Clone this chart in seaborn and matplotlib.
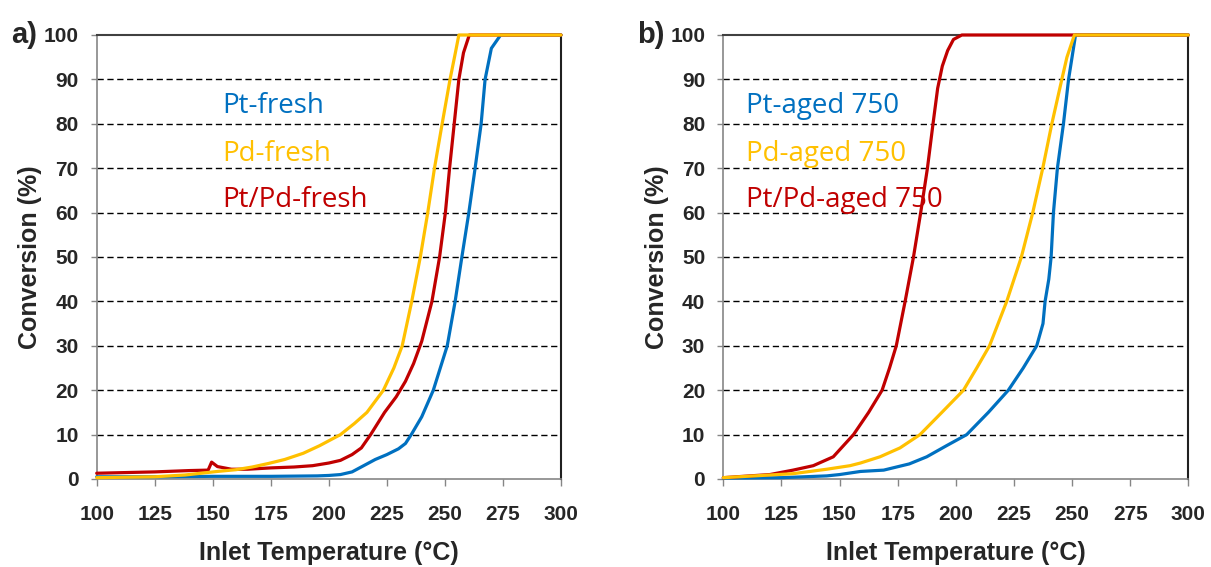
import numpy as np
import pandas as pd
import matplotlib
matplotlib.use("Agg")
import matplotlib.pyplot as plt
import seaborn as sns

# ---------------- data ----------------
# Panel a) fresh catalysts
pt_fresh_T = [100, 125, 150, 175, 195, 200, 205, 210, 215, 220, 225, 230, 233, 235.5, 240, 245, 248, 251,
              254.4, 257.3, 260.3, 263, 265.6, 267.3, 270, 274, 300]
pt_fresh_C = [0.5, 0.5, 0.6, 0.6, 0.7, 0.8, 1.0, 1.6, 3.0, 4.4, 5.5, 6.8, 8.0, 10, 14, 20, 25, 30,
              40, 50, 60, 70, 80, 90, 97, 100, 100]

pd_fresh_T = [100, 125, 138, 152, 160, 167, 174, 181, 189, 196, 205, 211, 216.4, 223.5, 228, 231.6,
              235.7, 239.4, 242.6, 245.5, 248.8, 252.2, 254.5, 256, 300]
pd_fresh_C = [0.3, 0.5, 0.9, 1.7, 2.1, 2.7, 3.5, 4.4, 5.8, 7.5, 10, 12.5, 15, 20, 25, 30,
              40, 50, 60, 70, 80, 90, 96, 100, 100]

ptpd_fresh_T = [100, 125, 140, 148, 149.5, 152, 158, 165, 175, 185, 193, 200, 205, 210, 214, 218, 224,
                229, 233, 236.5, 240, 244.4, 247.7, 250.2, 252, 254, 256, 258, 260.5, 300]
ptpd_fresh_C = [1.3, 1.6, 1.9, 2.0, 3.8, 2.8, 2.2, 2.2, 2.5, 2.7, 3.0, 3.6, 4.2, 5.5, 7, 10, 15,
                18.5, 22, 26, 31, 40, 50, 60, 70, 80, 90, 96, 100, 100]

# Panel b) aged 750
pt_aged_T = [100, 125, 144.5, 150, 159, 169, 180, 187.5, 196, 204.7, 214, 222.6, 229, 234.8, 237.5,
             238.4, 240, 241, 242, 243.7, 246.3, 248.5, 250, 251.5, 300]
pt_aged_C = [0.2, 0.3, 0.7, 1.0, 1.7, 2.0, 3.4, 5, 7.5, 10, 15, 20, 25, 30, 35,
             40, 45, 50, 60, 70, 80, 90, 95, 100, 100]

pd_aged_T = [100, 130, 144.5, 154.5, 159, 167.4, 176, 184.6, 194, 203.3, 209, 214.5, 221.9, 228.2,
             233.1, 237.4, 241.3, 245.6, 247.8, 251, 300]
pd_aged_C = [0.3, 1.2, 2.2, 3.0, 3.6, 5, 7, 10, 15, 20, 25, 30, 40, 50,
             60, 70, 80, 90, 95, 100, 100]

ptpd_aged_T = [100, 120, 130, 138.7, 147.3, 156, 162.5, 168.3, 171.5, 174.4, 178.2, 181.8, 184.9, 187.8,
               190.2, 192.2, 194.2, 196.5, 199, 202.6, 300]
ptpd_aged_C = [0.3, 1.0, 2.0, 3.0, 5, 10, 15, 20, 25, 30, 40, 50, 60, 70,
               80, 88, 93, 96.5, 99, 100, 100]

labels_a = {"Pt": "Pt-fresh", "Pd": "Pd-fresh", "PtPd": "Pt/Pd-fresh"}
labels_b = {"Pt": "Pt-aged 750", "Pd": "Pd-aged 750", "PtPd": "Pt/Pd-aged 750"}
label_order = ["Pt", "Pd", "PtPd"]
x_ticks = [100, 125, 150, 175, 200, 225, 250, 275, 300]
y_ticks = [0, 10, 20, 30, 40, 50, 60, 70, 80, 90, 100]
x_label = "Inlet Temperature (°C)"
y_label = "Conversion (%)"

colors = {"Pt": "#0070C0", "PtPd": "#C00000", "Pd": "#FFC000"}

# ---------------- style ----------------
sns.set_theme(style="white")
plt.rcParams["font.family"] = ["Liberation Sans", "DejaVu Sans"]

W, H = 1211, 567
fig = plt.figure(figsize=(W / 100, H / 100), dpi=100)
ax1 = fig.add_axes([96.7 / W, 88 / H, 464.3 / W, 444 / H])
ax2 = fig.add_axes([723.3 / W, 88 / H, 465 / W, 444 / H])


def make_df(series):
    frames = []
    for name, T, C in series:
        frames.append(pd.DataFrame({"T": T, "C": C, "cat": name}))
    return pd.concat(frames, ignore_index=True)


def draw(ax, series, labels, tag, label_x):
    df = make_df(series)
    keys = [s[0] for s in series]
    sns.lineplot(data=df, x="T", y="C", hue="cat", hue_order=keys,
                 palette=[colors[k] for k in keys], estimator=None, sort=False,
                 linewidth=2.3, legend=False, ax=ax, zorder=5)
    for ln in ax.get_lines():
        ln.set_clip_on(False)

    ax.set_xlim(100, 300)
    ax.set_ylim(0, 100)
    ax.set_xticks(x_ticks)
    ax.set_yticks(y_ticks)
    ax.set_xticklabels([str(v) for v in x_ticks], fontsize=15, fontweight="bold")
    ax.set_yticklabels([str(v) for v in y_ticks], fontsize=15, fontweight="bold")
    ax.tick_params(axis="x", direction="out", length=5, width=1, color="#868686", pad=14, bottom=True)
    ax.tick_params(axis="y", direction="out", length=4, width=1, color="#868686", pad=9, left=True)

    for yv in y_ticks[1:-1]:
        ax.axhline(yv, color="black", linewidth=1.0, linestyle=(0, (4.5, 2.6)), zorder=1)

    for side in ["left", "bottom"]:
        ax.spines[side].set_color("#868686")
        ax.spines[side].set_linewidth(1.2)
    ax.spines["top"].set_color("#404040")
    ax.spines["top"].set_linewidth(1.5)
    ax.spines["right"].set_color("#202020")
    ax.spines["right"].set_linewidth(1.5)
    for sp in ax.spines.values():
        sp.set_visible(True)
        sp.set_zorder(3)

    ax.set_xlabel(x_label, fontsize=18, fontweight="bold", labelpad=12)
    ax.set_ylabel(y_label, fontsize=18, fontweight="bold", labelpad=1)

    text_y = [82.4, 71.7, 61.2]
    for k, yv in zip(label_order, text_y):
        ax.text(label_x, yv, labels[k], color=colors[k], fontsize=20,
                family=["Open Sans", "DejaVu Sans"], ha="left", va="baseline")

    ax.text(-0.185, 1.0, tag, transform=ax.transAxes, fontsize=21,
            fontweight="bold", ha="left", va="center")


draw(ax1, [("Pt", pt_fresh_T, pt_fresh_C), ("PtPd", ptpd_fresh_T, ptpd_fresh_C),
           ("Pd", pd_fresh_T, pd_fresh_C)], labels_a, "a)", 154)
draw(ax2, [("Pt", pt_aged_T, pt_aged_C), ("PtPd", ptpd_aged_T, ptpd_aged_C),
           ("Pd", pd_aged_T, pd_aged_C)], labels_b, "b)", 109.8)

fig.savefig("out.png", dpi=100, facecolor="white")
